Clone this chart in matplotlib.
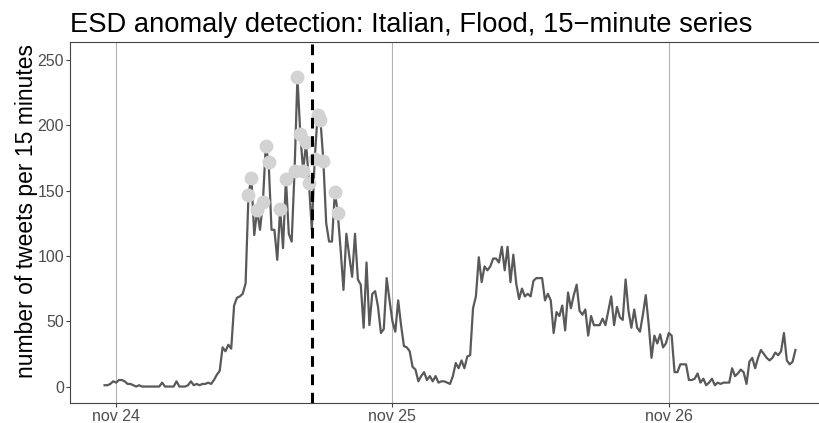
import matplotlib
matplotlib.use("Agg")
import matplotlib.pyplot as plt
import pandas as pd

# tweets per 15 minutes, 23:00 nov 23 -> 11:00 nov 26
counts = [
    1, 1, 2, 4, 3, 5, 5, 4, 2, 2,
    1, 0, 1, 0, 0, 0, 0, 0, 0, 0,
    3, 0, 0, 0, 0, 4, 0, 0, 0, 1,
    4, 1, 2, 1, 2, 2, 3, 2, 5, 9,
    12, 30, 27, 32, 29, 62, 68, 69, 71, 79,
    147, 160, 116, 135, 120, 141, 184, 172, 120, 120,
    97, 136, 106, 159, 117, 111, 165, 237, 193, 165,
    187, 156, 120, 174, 208, 204, 173, 125, 111, 111,
    149, 133, 105, 74, 117, 100, 84, 117, 82, 78,
    45, 95, 47, 71, 73, 61, 41, 44, 83, 66,
    50, 42, 66, 47, 31, 30, 27, 15, 13, 4,
    8, 11, 5, 8, 4, 8, 3, 4, 4, 3,
    2, 8, 18, 14, 20, 14, 23, 24, 60, 69,
    99, 80, 92, 89, 92, 98, 98, 95, 107, 89,
    107, 80, 101, 79, 67, 75, 69, 71, 69, 81,
    83, 83, 83, 66, 71, 66, 41, 57, 54, 62,
    43, 72, 60, 70, 78, 58, 55, 59, 39, 54,
    47, 47, 47, 52, 47, 58, 69, 47, 61, 53,
    51, 82, 58, 45, 59, 45, 42, 55, 70, 48,
    22, 39, 33, 40, 30, 33, 41, 39, 11, 11,
    17, 17, 17, 5, 5, 6, 10, 3, 6, 1,
    3, 6, 1, 3, 2, 3, 3, 3, 14, 8,
    10, 13, 11, 2, 19, 22, 14, 22, 28, 25,
    22, 20, 22, 26, 24, 27, 41, 20, 17, 19,
    28,
]
times = pd.date_range("2019-11-23 23:00", periods=len(counts), freq="15min")

# indices flagged by ESD
anomaly_idx = [50, 51, 53, 55, 56, 57, 61, 63, 66, 67, 68, 69, 70, 71,
               73, 74, 75, 76, 80, 81]
event_time = pd.Timestamp("2019-11-24 17:00")

tick_times = pd.to_datetime(["2019-11-24", "2019-11-25", "2019-11-26"])
tick_labels = ["nov 24", "nov 25", "nov 26"]
y_ticks = [0, 50, 100, 150, 200, 250]

plt.rcParams["font.family"] = ["Liberation Sans", "DejaVu Sans"]

fig = plt.figure(figsize=(8.19, 4.23), dpi=100)
ax = fig.add_axes([70 / 819, 20 / 423, 760 / 819, 361 / 423])

for t in tick_times:
    ax.axvline(t, color="#b3b3b3", lw=0.8, zorder=0)

ax.plot(times, counts, color="#595959", lw=1.6, zorder=2)
ax.plot(times[anomaly_idx], [counts[i] for i in anomaly_idx], "o",
        color="#d3d3d3", ms=10, mec="none", zorder=3)
ax.axvline(event_time, color="black", lw=2.2, dashes=(3.5, 2.5), zorder=4)

ax.set_xlim(times[0] - pd.Timedelta(hours=3), times[-1] + pd.Timedelta(hours=3))
ax.set_ylim(-12.6, 263.8)
ax.set_xticks(tick_times)
ax.set_xticklabels(tick_labels)
ax.set_yticks(y_ticks)

for s in ax.spines.values():
    s.set_color("#444444")
    s.set_linewidth(0.8)
ax.tick_params(length=2.8, width=0.8, color="#444444", labelcolor="#4d4d4d",
               labelsize=11.5, pad=1.5)

fig.text(70 / 819, 1 - 31.7 / 423,
         "ESD anomaly detection: Italian, Flood, 15\u2212minute series",
         fontsize=19.7, ha="left", va="baseline")
fig.text(27 / 819, 1 - 211 / 423, "number of tweets per 15 minutes",
         fontsize=16.5, rotation=90, ha="center", va="center")

fig.savefig("out.png", dpi=100)
